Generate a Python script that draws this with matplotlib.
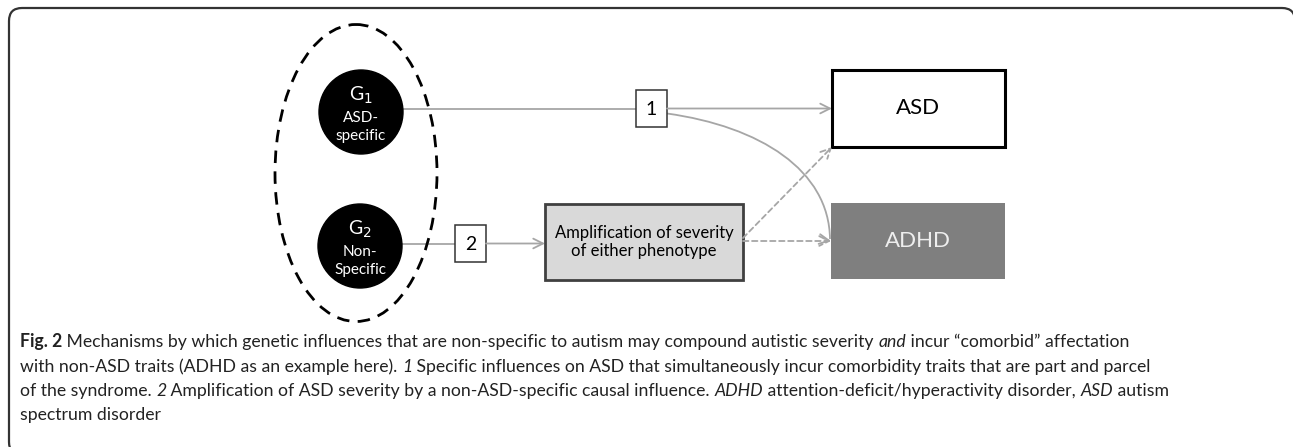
import matplotlib
matplotlib.use("Agg")
import matplotlib.pyplot as plt
from matplotlib.patches import Ellipse, Circle, Rectangle
from matplotlib.path import Path
import matplotlib.patches as mpatches

W, H = 1293, 447

# diagram nodes (pixel positions: x, y, width, height)
gene_labels = [("G", "1", "ASD-", "specific"), ("G", "2", "Non-", "Specific")]
gene_centers = [(361, 112), (360, 246)]
gene_radius = 42
ellipse_box = (356, 173, 162, 297)

num_labels = ["1", "2"]
num_boxes = [(636, 90, 31, 37), (455, 225, 31, 37)]

outcome_labels = ["ASD", "ADHD"]
outcome_boxes = [(832, 70, 173, 77), (831, 203, 174, 76)]

amp_label = "Amplification of severity\nof either phenotype"
amp_box = (545, 204, 198, 76)

caption_lines = [
    [("Fig. 2", "bold"), (" Mechanisms by which genetic influences that are non-specific to autism may compound autistic severity ", "normal"),
     ("and", "italic"), (" incur \u201ccomorbid\u201d affectation", "normal")],
    [("with non-ASD traits (ADHD as an example here). ", "normal"), ("1", "italic"),
     (" Specific influences on ASD that simultaneously incur comorbidity traits that are part and parcel", "normal")],
    [("of the syndrome. ", "normal"), ("2", "italic"), (" Amplification of ASD severity by a non-ASD-specific causal influence. ", "normal"),
     ("ADHD", "italic"), (" attention-deficit/hyperactivity disorder, ", "normal"), ("ASD", "italic"), (" autism", "normal")],
    [("spectrum disorder", "normal")],
]
caption_y = [347, 372, 396, 420]
caption_right = [1142, 1147, 1146]

LINE = "#a6a6a6"
DIAG_FONT = "Lato"
CAP_FONT = "Lato"


def arrow(ax, p0, p1, dashed=False):
    ax.annotate("", xy=p1, xytext=p0,
                arrowprops=dict(arrowstyle="->,head_length=0.7,head_width=0.35", color=LINE, lw=1.3,
                                linestyle=(0, (3, 2)) if dashed else "-", shrinkA=0, shrinkB=0))


def draw_runs(ax, r, runs, y, size):
    x = 20
    drawn = []
    for txt, sty in runs:
        t = ax.text(x, y, txt, fontsize=size, family=CAP_FONT, color="#222222", va="baseline",
                    fontweight="bold" if sty == "bold" else "normal",
                    fontstyle="italic" if sty == "italic" else "normal")
        drawn.append(t)
        x += t.get_window_extent(r).width
    return x, drawn


def frame_path(left, top, right, bottom, rad):
    verts = [(left + rad, bottom), (left, bottom), (left, bottom - rad),
             (left, top + rad), (left, top), (left + rad, top),
             (right - rad, top), (right, top), (right, top + rad),
             (right, bottom)]
    codes = [Path.MOVETO, Path.CURVE3, Path.CURVE3, Path.LINETO, Path.CURVE3, Path.CURVE3,
             Path.LINETO, Path.CURVE3, Path.CURVE3, Path.LINETO]
    return Path(verts, codes)


def main():
    fig = plt.figure(figsize=(W / 100, H / 100), dpi=100)
    ax = fig.add_axes([0, 0, 1, 1])
    ax.set_xlim(0, W)
    ax.set_ylim(H, 0)
    ax.axis("off")

    # frame (right and bottom run off the picture)
    ax.add_patch(mpatches.PathPatch(frame_path(9, 8, W + 2, H + 8, 13), fill=False,
                                    ec="#333333", lw=1.6, clip_on=False))

    # dashed ellipse around genes
    cx, cy, ew, eh = ellipse_box
    ax.add_patch(Ellipse((cx, cy), ew, eh, fill=False, ec="black", lw=2.0, ls=(0, (4.5, 3)), zorder=3))

    for (g, sub, l1, l2), (x, y) in zip(gene_labels, gene_centers):
        ax.add_patch(Circle((x, y), gene_radius, color="black", zorder=2))
        ax.text(x, y - 17, "%s$_{%s}$" % (g, sub), color="white", fontsize=14, family=DIAG_FONT,
                ha="center", va="center", zorder=4)
        ax.text(x, y + 6, l1, color="white", fontsize=11, family=DIAG_FONT, ha="center", va="center", zorder=4)
        ax.text(x, y + 24, l2, color="white", fontsize=11, family=DIAG_FONT, ha="center", va="center", zorder=4)

    for lab, (x, y, w, h) in zip(num_labels, num_boxes):
        ax.add_patch(Rectangle((x, y), w, h, fc="white", ec="#333333", lw=1.1, zorder=3))
        ax.text(x + w / 2, y + h / 2 + 1, lab, fontsize=14, family=DIAG_FONT, ha="center", va="center", zorder=4)

    asd, adhd = outcome_boxes
    ax.add_patch(Rectangle(asd[:2], asd[2], asd[3], fc="white", ec="black", lw=2.2, zorder=3))
    ax.text(asd[0] + asd[2] / 2, asd[1] + asd[3] / 2, outcome_labels[0], fontsize=16, family=DIAG_FONT,
            ha="center", va="center", zorder=4)
    ax.add_patch(Rectangle(adhd[:2], adhd[2], adhd[3], fc="#7f7f7f", ec="none", zorder=3))
    ax.text(adhd[0] + adhd[2] / 2, adhd[1] + adhd[3] / 2, outcome_labels[1], fontsize=16, family=DIAG_FONT,
            color="#eeeeee", ha="center", va="center", zorder=4)

    ax_, ay_, aw_, ah_ = amp_box
    ax.add_patch(Rectangle((ax_, ay_), aw_, ah_, fc="#d9d9d9", ec="#404040", lw=2.0, zorder=3))
    ax.text(ax_ + aw_ / 2, ay_ + ah_ / 2, amp_label, fontsize=12, family=DIAG_FONT, ha="center",
            va="center", linespacing=1.2, zorder=4)

    # connectors
    b1, b2 = num_boxes
    g1, g2 = gene_centers
    y1 = b1[1] + b1[3] / 2
    ax.plot([g1[0] + gene_radius, b1[0]], [y1, y1], color=LINE, lw=1.3, zorder=1)
    arrow(ax, (b1[0] + b1[2], y1), (asd[0], y1))
    y2 = b2[1] + b2[3] / 2
    ax.plot([g2[0] + gene_radius, b2[0]], [y2, y2], color=LINE, lw=1.3, zorder=1)
    arrow(ax, (b2[0] + b2[2], y2), (ax_, y2))

    # curved path from box 1 to ADHD
    ya = adhd[1] + adhd[3] / 2
    verts = [(b1[0] + b1[2], y1 + 5), (760, y1 + 18), (adhd[0] - 2, 170), (adhd[0] - 1, ya - 2)]
    path = Path(verts, [Path.MOVETO, Path.CURVE4, Path.CURVE4, Path.CURVE4])
    ax.add_patch(mpatches.PathPatch(path, fill=False, ec=LINE, lw=1.3, zorder=1))
    arrow(ax, (adhd[0] - 6, ya - 1), (adhd[0], ya))

    # dashed arrows from amplification box
    arrow(ax, (ax_ + aw_, ya), (adhd[0], ya), dashed=True)
    arrow(ax, (ax_ + aw_, ya - 3), (asd[0], asd[1] + asd[3]), dashed=True)

    # caption with mixed styles; font size fitted to the widths of the full lines
    fig.canvas.draw()
    r = fig.canvas.get_renderer()
    got, want = 0, 0
    for runs, target in zip(caption_lines[:3], caption_right):
        end, probe = draw_runs(ax, r, runs, -100, 12)
        got += end - 20
        want += target - 20
        for t in probe:
            t.remove()
    size = 12 * want / got
    for runs, y in zip(caption_lines, caption_y):
        draw_runs(ax, r, runs, y, size)

    fig.savefig("out.png", dpi=100)


if __name__ == "__main__":
    main()
